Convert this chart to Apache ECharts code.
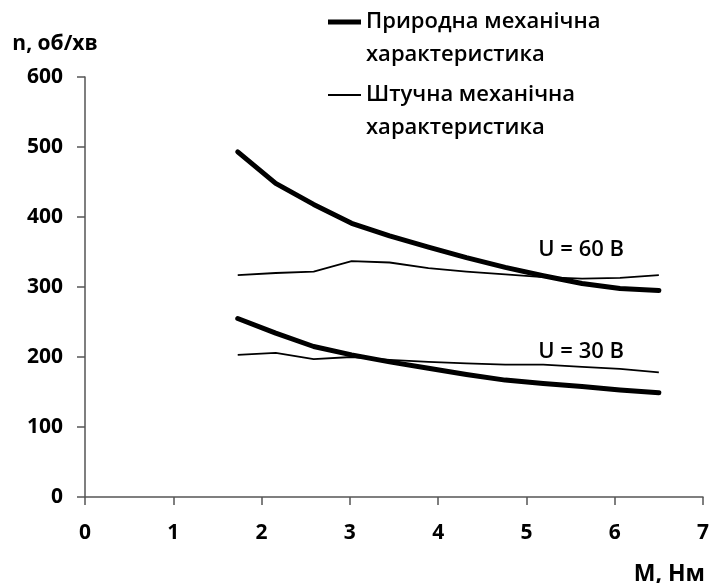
<!DOCTYPE html>
<html>
<head>
<meta charset="utf-8">
<script src="https://cdn.jsdelivr.net/npm/echarts@6/dist/echarts.min.js"></script>
<style>
  html, body { margin: 0; padding: 0; background: #fff; }
  #chart { width: 710px; height: 583px; }
</style>
</head>
<body>
<div id="chart"></div>
<script>
// Torque values, M (Нм), shared by all four curves
const torque = [1.73, 2.16, 2.59, 3.02, 3.45, 3.89, 4.32, 4.76, 5.19, 5.63, 6.06, 6.5];

// Speed, n (об/хв): natural characteristics (thick lines)
const natural60 = [493, 448, 418, 391, 373, 357, 342, 328, 316, 305, 298, 295];
const natural30 = [255, 234, 215, 203, 193, 184, 175, 167, 162, 158, 153, 149];

// Speed, n (об/хв): artificial characteristics (thin lines)
const artificial60 = [317, 320, 322, 337, 335, 327, 322, 318, 314, 312, 313, 317];
const artificial30 = [203, 206, 197, 200, 196, 193, 191, 189, 189, 186, 183, 178];

const seriesNames = ['Природна механічна\nхарактеристика', 'Штучна механічна\nхарактеристика'];

// Supply-voltage captions and where they sit (M, n)
const voltageLabels = ['U = 60 В', 'U = 30 В'];
const voltageLabelM = [5.62, 5.62];
const voltageLabelN = [353, 208];

const xTicks = [0, 1, 2, 3, 4, 5, 6, 7];
const yTicks = [0, 100, 200, 300, 400, 500, 600];

const FONT = '"Open Sans", "Noto Sans", sans-serif';
const AXIS_COLOR = '#555';

function pairs(xs, ys) { return xs.map((x, i) => [x, ys[i]]); }

const thick = { color: '#000', width: 5, join: 'round', cap: 'round' };
const thin = { color: '#000', width: 1.8, join: 'round' };

function lineSeries(name, values, style) {
  return {
    type: 'line',
    name: name,
    data: pairs(torque, values),
    showSymbol: false,
    symbol: 'none',
    smooth: false,
    silent: true,
    lineStyle: style,
    itemStyle: { color: '#000' },
    z: style.width > 3 ? 3 : 2
  };
}

// A leading blank line keeps the first caption line level with the legend stroke
function legendBlock(name, top, strokeHeight) {
  return {
    data: [{ name: name, icon: 'rect' }],
    formatter: n => '\n' + n,
    left: 323, top: top, padding: 5,
    itemWidth: 33, itemHeight: strokeHeight,
    itemStyle: { color: '#000' },
    textStyle: {
      color: '#000', fontFamily: FONT, fontSize: 22, fontWeight: 600, lineHeight: 33
    },
    selectedMode: false
  };
}

const option = {
  backgroundColor: '#fff',
  animation: false,
  grid: { left: 85, right: 7, top: 77, bottom: 86, containLabel: false, outerBoundsMode: 'none' },
  legend: [
    legendBlock(seriesNames[0], 22 - 54.5, 5),
    legendBlock(seriesNames[1], 95 - 54.5, 2)
  ],
  xAxis: {
    type: 'value',
    min: xTicks[0], max: xTicks[xTicks.length - 1], interval: 1,
    name: 'M, Нм',
    nameLocation: 'end',
    nameGap: 2,
    nameTextStyle: {
      color: '#000', fontFamily: FONT, fontSize: 23, fontWeight: 'bold',
      align: 'right', verticalAlign: 'top', padding: [66, 0, 0, 0]
    },
    axisLine: { show: true, lineStyle: { color: AXIS_COLOR, width: 1.5 } },
    axisTick: { show: true, inside: false, length: 8, lineStyle: { color: AXIS_COLOR, width: 1.5 } },
    axisLabel: { color: '#000', fontFamily: FONT, fontSize: 21, fontWeight: 'bold', margin: 26 },
    splitLine: { show: false }
  },
  yAxis: {
    type: 'value',
    min: yTicks[0], max: yTicks[yTicks.length - 1], interval: 100,
    name: 'n, об/хв',
    nameLocation: 'end',
    nameGap: 22,
    nameTextStyle: {
      color: '#000', fontFamily: FONT, fontSize: 21, fontWeight: 'bold',
      align: 'center', padding: [0, 60, 0, 0]
    },
    axisLine: { show: true, lineStyle: { color: AXIS_COLOR, width: 1.5 } },
    axisTick: { show: true, inside: false, length: 8, lineStyle: { color: AXIS_COLOR, width: 1.5 } },
    axisLabel: { color: '#000', fontFamily: FONT, fontSize: 21, fontWeight: 'bold', margin: 22 },
    splitLine: { show: false }
  },
  series: [
    lineSeries(seriesNames[0], natural60, thick),
    lineSeries(seriesNames[0], natural30, thick),
    lineSeries(seriesNames[1], artificial60, thin),
    lineSeries(seriesNames[1], artificial30, thin),
    {
      type: 'scatter',
      name: 'voltage',
      silent: true,
      symbolSize: 0,
      itemStyle: { color: '#000', opacity: 1 },
      data: voltageLabels.map((t, i) => [voltageLabelM[i], voltageLabelN[i], t]),
      label: {
        show: true,
        position: 'inside',
        formatter: p => p.value[2],
        color: '#000',
        textBorderWidth: 0,
        fontFamily: FONT,
        fontSize: 22,
        fontWeight: 600
      },
      z: 5
    }
  ]
};

const chart = echarts.init(document.getElementById('chart'), null, { renderer: 'canvas' });
chart.setOption(option);
</script>
</body>
</html>
